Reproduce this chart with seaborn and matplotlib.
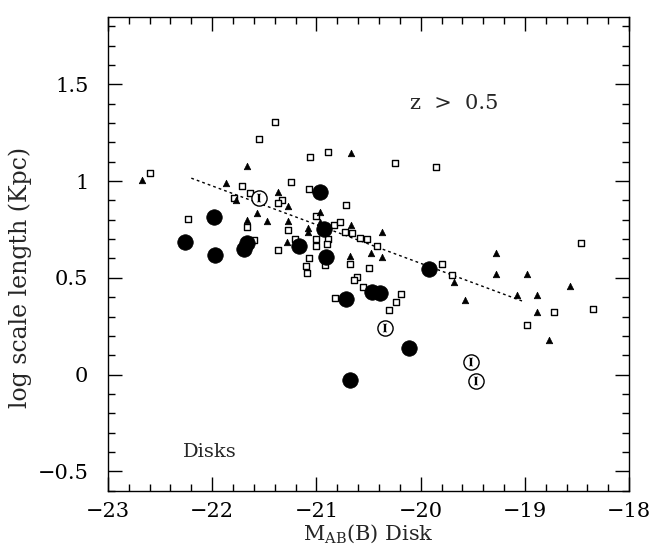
import numpy as np
import pandas as pd
import matplotlib
matplotlib.use("Agg")
import matplotlib.pyplot as plt
import seaborn as sns
from matplotlib.ticker import MultipleLocator, FixedLocator, FixedFormatter

# ---------- data ----------
# large filled circles
circ_x = [-22.26, -21.98, -21.97, -21.67, -21.69, -21.17, -20.97, -20.93,
          -20.91, -20.72, -20.47, -20.39, -19.92, -20.11, -20.68]
circ_y = [0.686, 0.814, 0.618, 0.682, 0.651, 0.665, 0.941, 0.750,
          0.610, 0.390, 0.425, 0.420, 0.544, 0.135, -0.026]

# open circles with error-bar glyph
ring_x = [-21.55, -20.34, -19.52, -19.47]
ring_y = [0.915, 0.242, 0.064, -0.031]

# small filled triangles
tri_x = [-22.67, -21.87, -21.67, -21.77, -21.37, -21.27, -21.57, -21.47,
         -21.67, -21.27, -21.28, -20.97, -21.08, -21.08, -20.97, -20.67,
         -20.67, -20.37, -20.48, -20.37, -20.68, -19.68, -19.57, -19.28,
         -19.28, -18.98, -18.57, -19.08, -18.88, -18.88, -18.77]
tri_y = [1.005, 0.988, 1.080, 0.903, 0.945, 0.872, 0.834, 0.794,
         0.798, 0.794, 0.686, 0.838, 0.760, 0.737, 0.788, 1.145,
         0.772, 0.737, 0.627, 0.610, 0.613, 0.478, 0.383, 0.627,
         0.522, 0.522, 0.458, 0.409, 0.409, 0.325, 0.178]

# small open squares
sq_x = [-22.60, -22.23, -21.71, -21.64, -21.79, -21.24, -21.33, -21.37,
        -21.67, -21.27, -21.60, -21.37, -21.21, -21.06, -20.89, -20.25,
        -19.85, -21.07, -21.00, -20.72, -20.83, -20.77, -20.73, -20.66,
        -20.58, -20.51, -20.42, -21.00, -20.89, -21.00, -20.90, -20.92,
        -20.68, -20.50, -21.07, -21.10, -21.09, -20.61, -20.64, -20.55,
        -20.82, -20.19, -20.24, -20.30, -19.80, -19.70, -18.46, -18.72,
        -18.35, -18.98, -21.55, -21.40]
sq_y = [1.043, 0.803, 0.972, 0.940, 0.915, 0.993, 0.903, 0.889,
        0.765, 0.748, 0.696, 0.644, 0.703, 1.125, 1.152, 1.093,
        1.074, 0.959, 0.820, 0.876, 0.772, 0.789, 0.737, 0.731,
        0.705, 0.700, 0.662, 0.703, 0.703, 0.665, 0.674, 0.565,
        0.573, 0.551, 0.605, 0.561, 0.527, 0.506, 0.489, 0.454,
        0.397, 0.415, 0.375, 0.333, 0.570, 0.513, 0.679, 0.325,
        0.340, 0.254, 1.218, 1.306]

# dotted fit line
fit_x = [-22.2, -19.0]
fit_y = [1.015, 0.375]

x_ticks = [-23, -22, -21, -20, -19, -18]
x_labels = ["\u221223", "\u221222", "\u221221", "\u221220", "\u221219", "\u221218"]
y_ticks = [-0.5, 0, 0.5, 1, 1.5]
y_labels = ["\u22120.5", "0", "0.5", "1", "1.5"]

# ---------- style ----------
sns.set_style("ticks")
plt.rcParams["font.family"] = ["DejaVu Serif"]
plt.rcParams["mathtext.fontset"] = "dejavuserif"

fig = plt.figure(figsize=(6.54, 5.45), dpi=100)
ax = fig.add_axes([0.165, 0.0996, 0.797, 0.870])

sns.lineplot(x=fit_x, y=fit_y, ax=ax, color="black", lw=1.0,
             linestyle=(0, (2, 2.2)), zorder=1)
sns.scatterplot(x=sq_x, y=sq_y, ax=ax, marker="s", s=18, color="white",
                edgecolor="black", linewidth=1.0, zorder=2)
sns.scatterplot(x=tri_x, y=tri_y, ax=ax, marker="^", s=22, color="black",
                edgecolor="black", linewidth=0.5, zorder=3)
sns.scatterplot(x=circ_x, y=circ_y, ax=ax, marker="o", s=125, color="black",
                edgecolor="black", linewidth=0.5, zorder=4)
sns.scatterplot(x=ring_x, y=ring_y, ax=ax, marker="o", s=120, color="white",
                edgecolor="black", linewidth=1.0, zorder=4)
sns.scatterplot(x=ring_x, y=ring_y, ax=ax, marker=r"$\mathrm{I}$", s=40,
                color="black", edgecolor="black", linewidth=0.2, zorder=5)

ax.set_xlim(-23, -18)
ax.set_ylim(-0.6, 1.85)
ax.xaxis.set_major_locator(FixedLocator(x_ticks))
ax.xaxis.set_major_formatter(FixedFormatter(x_labels))
ax.yaxis.set_major_locator(FixedLocator(y_ticks))
ax.yaxis.set_major_formatter(FixedFormatter(y_labels))
ax.xaxis.set_minor_locator(MultipleLocator(0.2))
ax.yaxis.set_minor_locator(MultipleLocator(0.1))
ax.tick_params(which="both", direction="in", top=True, right=True,
               labelsize=15, width=1.0, colors="black")
ax.tick_params(which="major", length=10)
ax.tick_params(which="minor", length=5)
ax.tick_params(axis="x", which="major", pad=8)
ax.tick_params(axis="y", which="major", pad=14)
for sp in ax.spines.values():
    sp.set_linewidth(1.0)
    sp.set_color("black")

ax.set_xlabel(r"M$_{\mathrm{AB}}$(B) Disk", fontsize=15, labelpad=1)
ax.set_ylabel("log scale length (Kpc)", fontsize=17)
ax.yaxis.set_label_coords(-0.146, 0.45)

ax.text(-20.1, 1.40, "z  >  0.5", fontsize=15, ha="left", va="center")
ax.text(-22.28, -0.40, "Disks", fontsize=14, ha="left", va="center")

fig.savefig("out.png", dpi=100)
